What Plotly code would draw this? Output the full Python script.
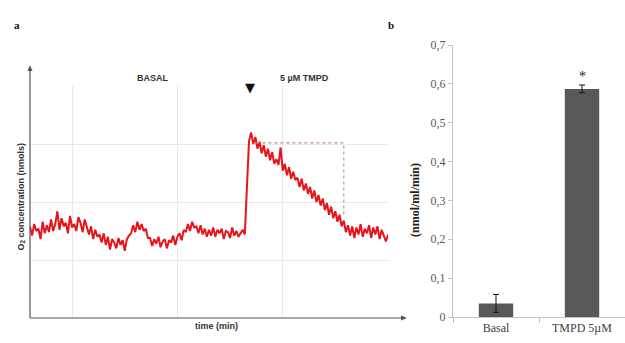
import plotly.graph_objects as go

# ---------------- data ----------------
# Panel a: O2 trace, sampled every 0.2 min starting at t = -4 min (arbitrary units, grid = 1)
trace_start_min = -4.0
trace_step_min = 0.2
o2_trace = [
    1.58, 1.42, 1.62, 1.50, 1.54, 1.36, 1.66, 1.46, 1.60, 1.48,
    1.70, 1.50, 1.62, 1.84, 1.52, 1.72, 1.58, 1.64, 1.46, 1.76, 1.56, 1.62, 1.50, 1.74, 1.64, 1.48, 1.70,
    1.56, 1.44, 1.58, 1.36, 1.52, 1.40, 1.44, 1.30, 1.46,
    1.26, 1.40, 1.18, 1.36, 1.30, 1.20, 1.38, 1.26, 1.34, 1.16, 1.36, 1.42,
    1.46, 1.60, 1.48, 1.66, 1.52, 1.62, 1.50, 1.54, 1.38,
    1.38, 1.24, 1.36, 1.28, 1.40, 1.22, 1.32, 1.36, 1.20, 1.34, 1.30, 1.42, 1.26, 1.40,
    1.46, 1.34, 1.52, 1.48, 1.62, 1.50, 1.66, 1.56, 1.58, 1.46, 1.60, 1.44, 1.54, 1.40, 1.52,
    1.42, 1.56, 1.40, 1.52, 1.46, 1.54, 1.36, 1.50, 1.48, 1.38, 1.56, 1.42, 1.50, 1.40, 1.46, 1.52, 1.44,
    2.40, 3.05, 3.20,
    3.00, 3.12, 2.92, 3.04, 2.84, 2.98, 2.78, 2.92, 2.72, 2.86, 2.66, 2.74, 2.64, 2.94, 2.54,
    2.66, 2.46, 2.60, 2.40, 2.52, 2.38, 2.42, 2.26, 2.40, 2.20, 2.32, 2.14, 2.26, 2.06, 2.20,
    2.00, 2.12, 1.94, 2.06, 1.86, 1.98, 1.78, 1.92, 1.72, 1.84, 1.66, 1.78, 1.58,
    1.68, 1.48, 1.60, 1.42, 1.58, 1.38, 1.56, 1.44, 1.62, 1.40, 1.54, 1.46, 1.60, 1.38, 1.56,
    1.44, 1.58, 1.36, 1.52, 1.42, 1.32, 1.44,
]
# dotted guide on panel a
guide_t = [17.5, 25.8, 25.8]
guide_y = [3.02, 3.02, 1.78]

# Panel b: rates
categories = ["Basal", "TMPD 5µM"]
rates = [0.035, 0.587]
rate_err = [0.023, 0.010]
rate_ticks = [0, 0.1, 0.2, 0.3, 0.4, 0.5, 0.6, 0.7]
rate_ticktext = ["0", "0,1", "0,2", "0,3", "0,4", "0,5", "0,6", "0,7"]

# ---------------- figure ----------------
W, H = 625, 343
def fx(p):
    return p / W
def fy(p):
    return 1 - p / H

fig = go.Figure()
fig.add_trace(go.Scatter(
    x0=trace_start_min, dx=trace_step_min, y=o2_trace, mode="lines",
    line=dict(color="#e8141c", width=2), xaxis="x", yaxis="y", showlegend=False,
))
fig.add_trace(go.Scatter(
    x=guide_t, y=guide_y, mode="lines",
    line=dict(color="#c08c8c", width=1.1, dash="dot"), xaxis="x", yaxis="y", showlegend=False,
))
fig.add_trace(go.Bar(
    x=categories, y=rates, width=0.4, marker=dict(color="#595959", line=dict(width=0)),
    error_y=dict(type="data", array=rate_err, color="#111111", thickness=1, width=3),
    xaxis="x2", yaxis="y2", showlegend=False,
))

sans = "Liberation Sans, Arial, sans-serif"
serif = "Liberation Serif, Times New Roman, serif"

fig.update_layout(
    width=W, height=H, margin=dict(l=0, r=0, t=0, b=0, autoexpand=False),
    paper_bgcolor="white", plot_bgcolor="white",
    xaxis=dict(domain=[fx(30), fx(388)], range=[-4, 30], tick0=0, dtick=10,
               showgrid=True, gridcolor="#e9e9e9", gridwidth=1, showticklabels=False,
               zeroline=False, showline=False, ticks=""),
    yaxis=dict(domain=[fy(318), fy(86)], range=[0, 4], tick0=0, dtick=1,
               showgrid=True, gridcolor="#e9e9e9", gridwidth=1, showticklabels=False,
               zeroline=False, showline=False, ticks=""),
    xaxis2=dict(domain=[fx(453), 1.0], type="category", range=[-0.5, 1.5],
                showline=True, linecolor="#c4c4c4", linewidth=1,
                ticks="outside", tickson="boundaries", ticklen=5, tickcolor="#c4c4c4",
                tickfont=dict(family=serif, size=12, color="#404040"),
                showgrid=False, zeroline=False, anchor="y2"),
    yaxis2=dict(domain=[fy(317), fy(45)], range=[0, 0.7],
                tickvals=rate_ticks, ticktext=rate_ticktext,
                showline=True, linecolor="#c4c4c4", linewidth=1,
                ticks="outside", ticklen=4, tickcolor="#c4c4c4",
                tickfont=dict(family=serif, size=12, color="#595959"),
                showgrid=False, zeroline=False, anchor="x2"),
)

# axis lines with arrowheads for panel a
axis_col = "#555555"
shapes = [
    dict(type="line", xref="paper", yref="paper", x0=fx(30), y0=fy(318), x1=fx(30), y1=fy(68),
         line=dict(color=axis_col, width=1.2)),
    dict(type="line", xref="paper", yref="paper", x0=fx(30), y0=fy(318), x1=fx(404), y1=fy(318),
         line=dict(color=axis_col, width=1.2)),
    dict(type="path", xref="paper", yref="paper", fillcolor=axis_col, line=dict(width=0),
         path=f"M {fx(27.5)} {fy(71)} L {fx(30)} {fy(65)} L {fx(32.5)} {fy(71)} Z"),
    dict(type="path", xref="paper", yref="paper", fillcolor=axis_col, line=dict(width=0),
         path=f"M {fx(401)} {fy(315.5)} L {fx(407)} {fy(318)} L {fx(401)} {fy(320.5)} Z"),
]
fig.update_layout(shapes=shapes)

ann = []
ann.append(dict(xref="paper", yref="paper", x=fx(12), y=fy(17), text="<b>a</b>", showarrow=False,
                font=dict(family=serif, size=11, color="#111111")))
ann.append(dict(xref="paper", yref="paper", x=fx(391), y=fy(17), text="<b>b</b>", showarrow=False,
                font=dict(family=serif, size=11, color="#111111")))
ann.append(dict(xref="paper", yref="paper", x=fx(135), y=fy(71), text="<b>BASAL</b>", showarrow=False,
                font=dict(family=sans, size=9, color="#333333")))
ann.append(dict(xref="paper", yref="paper", x=fx(304), y=fy(71), text="<b>5 µM TMPD</b>", showarrow=False,
                font=dict(family=sans, size=9, color="#333333")))
ann.append(dict(xref="paper", yref="paper", x=fx(250), y=fy(78), text="▼", showarrow=False,
                font=dict(family="DejaVu Sans", size=13, color="#111111")))
ann.append(dict(xref="paper", yref="paper", x=fx(14), y=fy(197), textangle=-90,
                text="<b>O<sub>2</sub> concentration (nmols)</b>", showarrow=False,
                font=dict(family=sans, size=9, color="#333333")))
ann.append(dict(xref="paper", yref="paper", x=fx(216), y=fy(333), text="<b>time (min)</b>", showarrow=False,
                font=dict(family=sans, size=9, color="#333333")))
ann.append(dict(xref="paper", yref="paper", x=fx(415), y=fy(200), textangle=-90,
                text="<b>(nmol/ml/min)</b>", showarrow=False,
                font=dict(family=serif, size=12, color="#222222")))
ann.append(dict(xref="x2", yref="y2", x=categories[1], y=0.62, text="*", showarrow=False,
                font=dict(family=serif, size=14, color="#222222")))
fig.update_layout(annotations=ann)

fig.write_html("out.html", post_script="document.body.style.margin='0';document.body.style.overflow='hidden';")
